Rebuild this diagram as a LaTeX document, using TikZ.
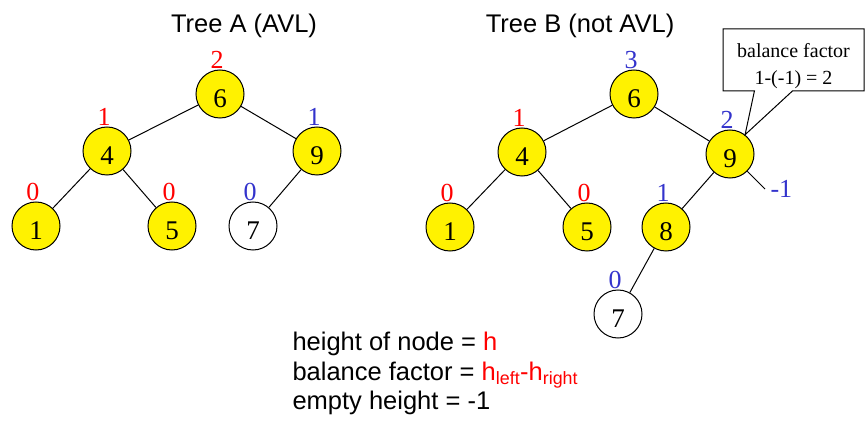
\documentclass[tikz,border=0pt]{standalone}
\usepackage{fontspec}
\setmainfont{Liberation Serif}
\setsansfont{Liberation Sans}
\usetikzlibrary{positioning,shapes.callouts}
\definecolor{hblue}{RGB}{51,51,204}

\begin{document}
\begin{tikzpicture}
    [x=1pt,y=1pt,line width=1pt,
     key/.style={circle,draw,fill=yellow,minimum size=48pt,inner sep=0pt,
       font=\fontsize{27}{27}\selectfont,text height=27pt,text depth=0pt},
     leaf/.style={key,fill=white},
     hlab/.style={font=\fontsize{26}{26}\selectfont,inner sep=0pt},
     title/.style={font=\sffamily\fontsize{25.5}{30}\selectfont,anchor=base},
     legend/.style={font=\sffamily\fontsize{25.5}{29.5}\selectfont,
       align=left,anchor=north west,inner sep=0pt}]
    \useasboundingbox (0,0) rectangle (865,-422);

    \node[title] (ta) at (244,-33) {Tree A (AVL)};
    \node[title] (tb) at (580,-33) {Tree B (not AVL)};

    \begin{scope}[on grid]
      \node[key] (a6) at (220,-94) {6};
      \node[key] (a4) [below left=57pt and 113pt of a6] {4};
      \node[key] (a9) [below right=57pt and 97pt of a6] {9};
      \node[key] (a1) [below left=75pt and 71pt of a4] {1};
      \node[key] (a5) [below right=75pt and 65pt of a4] {5};
      \node[leaf] (a7) [below left=75pt and 64pt of a9] {7};

      \node[key] (b6) [right=414pt of a6] {6};
      \node[key] (b4) [below left=58pt and 112pt of b6] {4};
      \node[key] (b9) [below right=60pt and 96pt of b6] {9};
      \node[key] (b1) [below left=75pt and 72pt of b4] {1};
      \node[key] (b5) [below right=75pt and 65pt of b4] {5};
      \node[key] (b8) [below left=73pt and 64pt of b9] {8};
      \node[leaf] (b7) [below left=87pt and 48pt of b8] {7};
      \coordinate[below right=35pt and 35pt of b9] (bx);
    \end{scope}

    \foreach \u / \v in {a6/a4,a6/a9,a4/a1,a4/a5,a9/a7,
                         b6/b4,b6/b9,b4/b1,b4/b5,b9/b8,b8/b7,b9/bx} {
      \draw (\u) -- (\v);
    }

    \foreach \n / \h / \c in {a6/2/red,a4/1/red,a9/1/hblue,a1/0/red,a5/0/red,
                              a7/0/hblue,b6/3/hblue,b4/1/red,b9/2/hblue,
                              b1/0/red,b5/0/red,b8/1/hblue,b7/0/hblue} {
      \node[hlab,text=\c] at (\n.north) [above=0pt,xshift=-3pt] {\h};
    }
    \node[hlab,text=hblue,right=5pt of bx] {-1};

    \node[rectangle callout,draw,fill=white,minimum width=141pt,
      minimum height=62pt,callout absolute pointer={(b9.52)},
      callout pointer width=38pt] (bf) at (793.5,-60) {};
    \node[font=\fontsize{20}{27}\selectfont,align=center,inner sep=0pt,
      below=14pt of bf.north] (bft) {balance factor\\1-(-1) = 2};

    \node[legend] (lg) at (292,-332) {height of node = \textcolor{red}{h}\\
      balance factor = \textcolor{red}{h\textsubscript{left}-h\textsubscript{right}}\\
      empty height = -1};
\end{tikzpicture}
\end{document}
